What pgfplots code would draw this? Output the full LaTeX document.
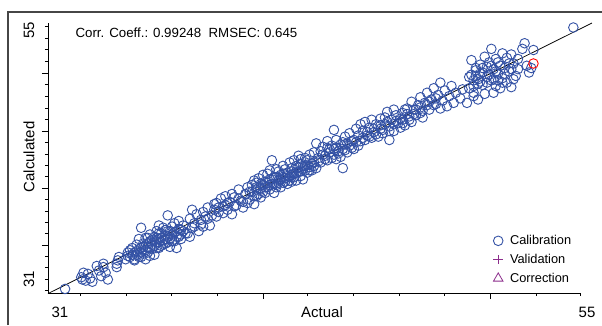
\documentclass[border=0pt]{standalone}
\usepackage{pgfplots}
\pgfplotsset{compat=1.18}
\usepackage{fontspec}
\setmainfont{Liberation Sans}
\definecolor{calblue}{RGB}{52,82,165}
\definecolor{legpurple}{RGB}{140,45,140}
\definecolor{framegray}{RGB}{70,70,70}
\begin{document}
\begin{tikzpicture}[x=1pt,y=1pt]
\path[use as bounding box] (0,0) rectangle (602,325);
\draw[framegray, line width=1.6pt] (8,0) -- (8,313) -- (602,313);
\begin{axis}[
  at={(48pt,32pt)}, anchor=south west,
  scale only axis, width=532pt, height=270pt,
  xmin=31, xmax=55, ymin=31, ymax=55,
  axis x line=bottom, axis y line=left,
  axis line style={-, black, line width=0.6pt},
  xtick={40.70,50.94}, xticklabels={},
  minor xtick={32.44,34.52,36.55,38.62,42.68,44.76,46.83,48.86,53.01,55},
  ytick={35.27,40.33,45.4,50.56}, yticklabels={},
  minor ytick={31.23,32.24,33.25,34.26,36.28,37.29,38.30,39.32,41.34,42.36,43.37,44.39,46.43,47.46,48.50,49.53,51.59,52.62,53.65,54.68},
  tick align=outside,
  major tick length=6pt, minor tick length=3pt,
  every tick/.style={black, line width=0.6pt},
  clip=false,
  legend style={at={(0.835,0.225)}, anchor=north west, draw=none, fill=none,
    font=\fontsize{12.8}{15}\selectfont, row sep=4pt, inner sep=1pt,
    /tikz/every odd column/.append style={column sep=5pt}},
  legend cell align=left,
]
\addplot[forget plot, black, line width=0.75pt] coordinates {(31,30.95) (55.54,55)};
\addplot[only marks, mark=o, mark size=4.8pt, calblue, mark options={line width=0.9pt}] coordinates {
(31.77,31.36)
(32.5,32.4) (32.7,32.1) (32.8,32.7) (32.6,32.8) (32.9,32.3) (33.0,32.0) (32.55,32.2)
(33.3,33.0) (33.4,32.5) (33.5,33.3) (33.6,32.8) (33.7,32.2) (33.5,33.6) (33.2,33.4)
(34.1,33.3) (34.15,33.9) (34.2,34.2) (34.1,33.6)
(34.5,34.0) (34.6,34.6) (34.7,34.2) (34.8,35.0) (34.8,34.4) (34.9,33.9) (35.0,35.3) (35.0,34.7)
(35.1,34.2) (35.1,35.8) (35.2,36.8) (35.2,35.0) (35.3,34.5) (35.3,35.4) (35.4,34.0) (35.4,35.9)
(35.5,35.1) (35.5,34.6) (35.6,35.6) (35.6,36.2) (35.7,34.9) (35.7,35.3) (35.8,34.4) (35.8,36.0)
(35.9,35.5) (35.9,36.5) (36.0,35.0) (36.0,35.8) (36.1,36.3) (36.1,35.2) (36.2,35.7) (36.2,36.8)
(36.3,35.4) (36.3,36.1) (36.4,37.9) (36.4,36.5) (36.5,35.8) (36.5,35.1) (36.6,36.2) (36.6,36.9)
(36.7,35.6) (36.7,37.2) (36.8,35.0) (36.8,36.5) (36.9,36.0) (36.9,37.4) (37.0,36.6) (37.0,35.8)
(37.1,37.0) (37.2,36.3) (34.9,34.0) (35.6,34.3) (36.0,37.0) (36.3,36.6)
(34.6,34.3) (34.7,34.8) (34.9,34.6) (35.0,34.4) (35.1,34.9) (35.2,34.6) (35.3,35.1) (35.4,34.8)
(35.5,35.4) (35.6,35.0) (35.7,35.7) (35.8,35.2) (35.9,35.0) (36.0,35.5) (36.1,35.9) (36.2,35.3)
(36.3,35.8) (36.4,36.0) (36.5,36.5) (36.6,35.6) (36.7,36.4) (36.8,36.0) (36.9,36.7) (37.0,36.2)
(37.1,36.5) (35.2,34.2) (35.5,35.9) (35.9,35.9) (36.4,35.5) (36.0,36.3)
(37.3,36.3) (37.4,37.6) (37.5,38.4) (37.5,36.8) (37.6,37.2) (37.7,38.0) (37.8,36.5) (37.9,37.5)
(38.0,38.2) (38.0,36.9) (38.1,37.8) (38.2,38.6) (38.3,37.0) (38.4,37.9) (37.4,36.0)
(37.6,36.9) (37.9,37.1) (38.2,37.6)
(38.5,38.4) (38.6,39.0) (38.6,37.8) (38.7,38.6) (38.8,39.4) (38.9,38.1) (39.0,38.8) (39.0,39.6)
(39.1,38.4) (39.2,39.1) (39.3,38.0) (39.4,39.5) (39.5,38.8) (39.6,40.2) (39.7,39.2) (39.8,38.6)
(39.9,39.8) (40.0,40.4) (40.1,39.3) (40.2,40.0) (40.3,38.9) (40.4,39.6) (38.5,38.9) (39.3,39.8)
(38.7,38.2) (38.9,38.7) (39.1,39.0) (39.4,38.7) (39.6,39.4) (39.8,39.1)
(40.0,39.0) (40.2,40.6) (40.3,41.0) (40.4,40.2) (40.5,39.8) (40.5,41.2) (40.6,39.5) (40.6,40.7)
(40.7,41.5) (40.7,40.0) (40.8,40.9) (40.8,39.9) (40.9,41.6) (40.9,40.4) (41.0,41.1) (41.0,40.2)
(41.1,42.8) (41.1,40.7) (41.2,41.3) (41.2,39.9) (41.3,42.0) (41.3,40.6) (41.4,41.0) (41.4,41.8)
(41.5,40.4) (41.5,41.5) (41.6,42.3) (41.6,40.8) (41.7,41.2) (41.7,42.0) (41.8,40.7) (41.8,41.7)
(41.9,42.6) (41.9,41.3) (42.0,40.9) (42.0,42.1) (42.1,41.6) (42.1,42.8) (42.2,41.0) (42.2,42.3)
(42.3,41.8) (42.3,43.2) (42.4,41.4) (42.4,42.5) (42.5,42.0) (42.5,41.1) (42.6,43.0) (42.6,42.3)
(42.7,41.7) (42.7,42.8) (42.8,42.2) (42.8,43.3) (42.9,41.9) (43.0,42.6) (43.0,43.5) (43.1,42.1)
(41.0,41.9) (41.6,41.6) (42.0,41.5) (40.4,40.8)
(40.1,40.0) (40.3,39.6) (40.4,40.4) (40.6,40.3) (40.7,40.6) (40.8,40.4) (40.9,40.8) (41.0,40.6)
(41.1,41.1) (41.2,40.7) (41.3,41.3) (41.4,40.8) (41.5,41.1) (41.6,41.3) (41.7,40.9) (41.8,41.4)
(41.9,41.0) (42.0,41.8) (42.1,41.3) (42.2,41.7) (42.3,42.2) (42.4,41.8) (42.5,42.3) (42.6,41.9)
(42.7,42.4) (42.8,41.9) (42.9,42.5) (43.0,42.3) (41.3,40.4) (42.4,42.9)
(43.1,44.3) (43.2,43.0) (43.3,43.6) (43.3,42.6) (43.4,44.0) (43.5,43.2) (43.6,42.8) (43.6,44.5)
(43.7,43.5) (43.8,44.1) (43.8,43.0) (43.9,45.5) (43.9,43.8) (44.0,44.6) (44.0,42.9) (44.1,43.4)
(44.2,44.2) (44.3,42.1) (44.3,43.8) (44.4,44.9) (44.5,43.5) (44.5,44.3) (44.6,45.2) (44.7,43.9)
(44.8,44.6) (44.9,45.6) (45.0,44.1) (45.0,45.0) (45.1,46.0) (44.2,43.1)
(43.2,42.7) (43.4,43.3) (43.5,42.9) (43.7,43.8) (43.9,43.3) (44.0,43.9) (44.1,43.6) (44.3,44.4)
(44.4,43.7) (44.6,44.1) (44.7,44.5) (44.8,43.8) (44.9,44.4) (43.6,43.9) (44.4,44.2)
(45.1,44.5) (45.2,45.4) (45.3,44.6) (45.3,46.2) (45.4,45.0) (45.5,45.7) (45.6,44.8) (45.6,46.4)
(45.7,45.3) (45.8,46.0) (45.9,44.9) (46.0,45.6) (46.0,46.5) (46.1,45.2) (46.2,46.0) (46.3,47.1)
(46.4,44.6) (46.4,45.8) (46.5,46.4) (46.6,45.4) (46.7,46.8) (46.8,46.1) (46.9,45.7) (47.0,47.0)
(47.0,46.4) (47.1,45.9) (47.2,47.4) (47.3,46.7) (47.4,48.0) (47.4,46.2) (47.5,47.3) (47.6,46.8)
(47.7,47.7) (47.8,48.4) (47.8,47.0) (47.9,46.6) (48.0,47.9) (48.1,48.8) (48.2,47.3) (48.3,48.2)
(48.4,49.2) (48.5,47.8) (48.6,48.6) (48.7,49.7) (48.7,47.4) (46.6,47.3)
(45.2,44.8) (45.4,45.3) (45.5,44.9) (45.7,45.6) (45.8,45.1) (46.0,45.9) (46.1,45.5) (46.3,46.2)
(46.4,45.4) (46.6,46.0) (46.7,46.3) (46.9,46.5) (47.0,46.1) (47.2,46.9) (47.3,46.4) (47.5,46.9)
(47.6,47.3) (47.8,47.5) (47.9,47.2) (48.1,47.7) (48.2,48.0) (48.4,47.7) (48.5,48.3) (46.2,46.6)
(47.1,47.3)
(48.8,48.1) (48.9,49.0) (49.0,47.6) (49.1,48.5) (49.2,49.4) (49.3,47.9) (49.4,48.8) (49.6,48.3)
(49.7,49.1) (49.9,47.9) (50.0,50.2) (50.1,51.7) (50.2,48.8) (50.3,51.0) (50.4,49.6) (50.5,50.5)
(50.0,49.2) (50.1,50.4) (50.2,49.9) (50.3,50.8) (50.4,48.2) (50.4,50.0) (50.5,51.3) (50.6,49.5)
(50.6,50.6) (50.7,52.0) (50.7,48.7) (50.8,50.2) (50.9,51.5) (51.0,52.7) (51.0,49.9) (51.1,50.9)
(51.2,51.8) (51.2,49.4) (51.3,50.5) (51.4,49.2) (51.4,51.2) (51.5,52.3) (51.5,50.1) (51.6,51.0)
(51.7,49.7) (51.7,51.9) (51.8,50.7) (51.9,52.2) (51.9,49.3) (52.0,51.4) (52.1,50.3) (52.2,51.8)
(52.2,50.9) (50.2,48.5) (50.8,51.1) (51.1,48.8)
(50.2,49.4) (50.5,49.8) (50.6,51.0) (50.8,49.7) (50.9,50.4) (51.0,51.2) (51.1,50.0) (51.2,50.7)
(51.3,51.5) (51.5,49.7) (51.6,50.5) (51.8,51.4) (51.9,50.9) (52.0,50.0) (50.3,50.3) (51.3,49.9)
(52.4,52.7) (52.5,53.2) (52.6,51.2) (52.7,50.6) (52.8,51.0) (52.9,52.6)
(54.7,54.6)
};
\addlegendentry{Calibration}
\addlegendimage{only marks, mark=+, mark size=4.8pt, legpurple, mark options={line width=0.8pt}}
\addlegendentry{Validation}
\addlegendimage{only marks, mark=triangle, mark size=5.5pt, legpurple, mark options={line width=0.8pt}}
\addlegendentry{Correction}
\addplot[forget plot, only marks, mark=o, mark size=4.8pt, red, mark options={line width=0.9pt}] coordinates {(52.9,51.4)};
\end{axis}
\node[anchor=west, font=\fontsize{13.3}{16}\selectfont] at (72,292) {Corr. Coeff.: 0.99248\ \ RMSEC: 0.645};
\node[font=\fontsize{15}{18}\selectfont] at (60,13) {31};
\node[font=\fontsize{15}{18}\selectfont] at (322,13) {Actual};
\node[font=\fontsize{15}{18}\selectfont] at (587,13) {55};
\node[rotate=90, font=\fontsize{15}{18}\selectfont] at (29,295) {55};
\node[rotate=90, font=\fontsize{15}{18}\selectfont] at (29,46) {31};
\node[rotate=90, font=\fontsize{15}{18}\selectfont] at (29,168) {Calculated};
\end{tikzpicture}
\end{document}
